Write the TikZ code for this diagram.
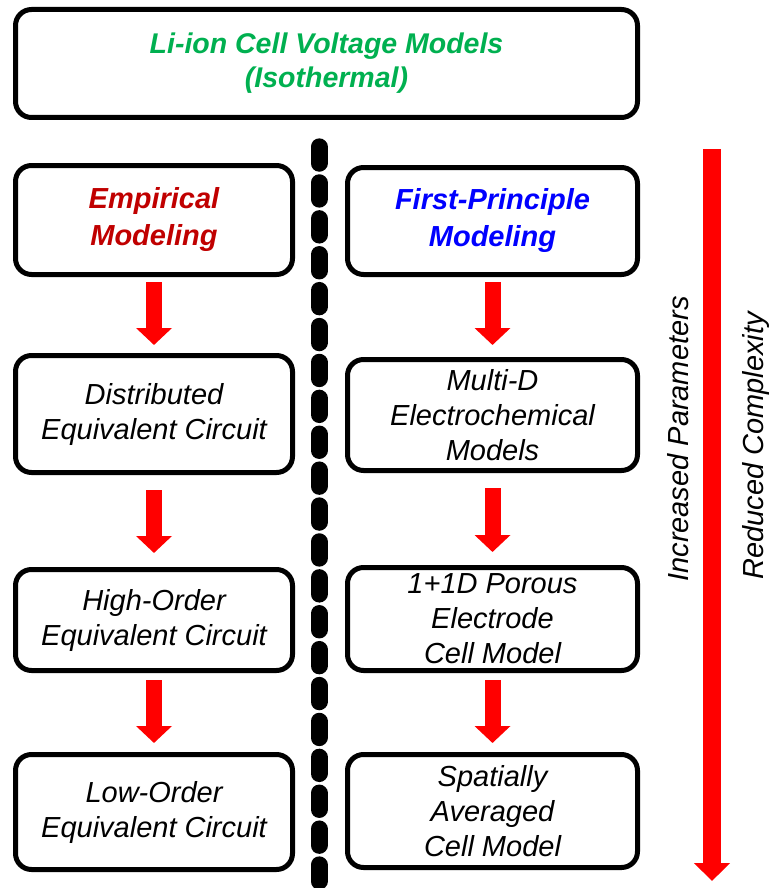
\documentclass[tikz,border=0pt]{standalone}
\usepackage{fontspec}
\setmainfont{Liberation Sans}
\usetikzlibrary{arrows.meta}
\definecolor{hgreen}{HTML}{00B050}
\definecolor{hred}{HTML}{C00000}
\definecolor{hblue}{HTML}{0000FF}
\definecolor{arrred}{HTML}{FF0000}
\begin{document}
\begin{tikzpicture}[x=1pt,y=-1pt,
  box/.style={draw=black, line width=5pt, rounded corners=16pt, align=center, inner sep=0pt},
  lbox/.style={box, minimum width=277pt},
  rbox/.style={box, minimum width=290pt},
  body/.style={font=\fontsize{29}{35}\selectfont\itshape},
  head/.style={font=\fontsize{29}{37}\selectfont\bfseries\itshape},
  flow/.style={draw=arrred, line width=16pt, -{Triangle[width=35pt,length=17pt]}},
  side/.style={font=\fontsize{29}{35}\selectfont\itshape, rotate=90, anchor=base, inner sep=0pt}]
\useasboundingbox (0,0) rectangle (772,888);
% title
\node[box, minimum width=622pt, minimum height=108pt,
      font=\fontsize{28.5}{34}\selectfont\bfseries\itshape, text=hgreen]
  (title) at (326.5,63.5) {Li-ion Cell Voltage Models\\(Isothermal)};
% left column
\node[lbox, minimum height=109pt, head, text=hred] (emp) at (154,220) {Empirical\\Modeling};
\node[lbox, minimum height=117pt, body] (dist) at (154,414) {Distributed\\Equivalent Circuit};
\node[lbox, minimum height=101pt, body] (high) at (154,620) {High-Order\\Equivalent Circuit};
\node[lbox, minimum height=115pt, body] (low) at (154,812) {Low-Order\\Equivalent Circuit};
% right column
\node[rbox, minimum height=107pt, head, text=hblue] (fp) at (492.5,221) {First-Principle\\Modeling};
\node[rbox, minimum height=111pt, body] (multi) at (492.5,415) {Multi-D\\Electrochemical\\Models};
\node[rbox, minimum height=103pt, body] (p2d) at (492.5,619) {1+1D Porous\\Electrode\\Cell Model};
\node[rbox, minimum height=113pt, body] (spm) at (492.5,811) {Spatially\\Averaged\\Cell Model};
% flow arrows
\draw[flow, shorten <=5pt, shorten >=8pt] (emp.south) -- (dist.north);
\draw[flow, shorten <=15pt, shorten >=14pt] (dist.south) -- (high.north);
\draw[flow, shorten <=7pt, shorten >=9pt] (high.south) -- (low.north);
\draw[flow, shorten <=5pt, shorten >=12pt] (fp.south) -- (multi.north);
\draw[flow, shorten <=15pt, shorten >=13pt] (multi.south) -- (p2d.north);
\draw[flow, shorten <=7pt, shorten >=9pt] (p2d.south) -- (spm.north);
% divider
\coordinate (dtop) at (319,146.85);
\coordinate (dbot) at (319,905);
\draw[line width=17pt, line cap=round, dash pattern=on 16.4pt off 19.5pt] (dtop) -- (dbot);
% big arrow
\coordinate (atop) at (712,149);
\coordinate (abot) at (712,881);
\draw[draw=arrred, line width=17.5pt, -{Triangle[width=35pt,length=18pt]}] (atop) -- (abot);
\node[side] (inc) at (688,439) {Increased Parameters};
\node[side] (red) at (763,446) {Reduced Complexity};
\end{tikzpicture}
\end{document}
